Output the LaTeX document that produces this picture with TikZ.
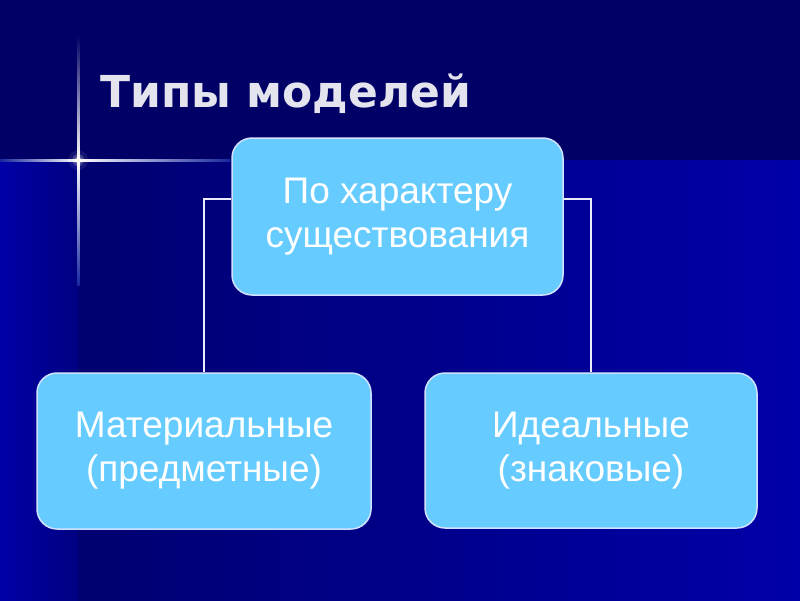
\documentclass[tikz,border=0pt]{standalone}
\usepackage{fontspec}
\usepackage{tikz}
\usetikzlibrary{shapes,positioning,calc}
\setmainfont{Liberation Sans}
\newfontfamily\titlefont{DejaVu Sans}
\definecolor{bgtop}{RGB}{0,0,102}
\definecolor{bgdark}{RGB}{0,0,112}
\definecolor{bglight}{RGB}{0,0,168}
\definecolor{boxfill}{RGB}{102,204,255}
\definecolor{boxline}{RGB}{210,225,255}
\definecolor{titlegray}{RGB}{228,228,238}
\definecolor{starblue}{RGB}{60,100,235}

\tikzset{
  typebox/.style={draw=boxline, line width=1.5pt, fill=boxfill, rounded corners=20pt,
    text=white, align=center, font=\fontsize{37}{44}\selectfont, inner sep=0pt},
  link/.style={draw=white!92!blue, line width=2pt},
  titletext/.style={font=\titlefont\bfseries\fontsize{44}{52}\selectfont, inner sep=0pt}
}

\begin{document}
\begin{tikzpicture}[x=1pt, y=-1pt]
        % Background
        \useasboundingbox (0,0) rectangle (800,600);
        \fill[bgtop] (0,0) rectangle (800,160);
        \shade[left color=bgdark, right color=bglight] (78,160) rectangle (800,600);
        \shade[left color=bglight, right color=bgdark!70!bglight] (0,160) rectangle (78,600);
        
        % Star
        \shade[left color=bgtop!60!starblue, right color=white] (0,159) rectangle (78,161.5);
        \shade[left color=white, right color=bgtop!60!starblue] (78,159) rectangle (230,161.5);
        \shade[top color=bgtop, bottom color=white] (77,35) rectangle (79.5,160);
        \shade[top color=white, bottom color=bgdark!60!starblue] (77,160) rectangle (79.5,285);
        \foreach \r/\o in {10/0.08, 6/0.2, 3.5/0.45, 1.8/1}
            \fill[white, opacity=\o] (78.2,160.2) circle (\r);
        
        % Title
        \node[titletext, text=titlegray, anchor=base west] (title) at (100,107) {Типы моделей};
        
        % Boxes
        \node[typebox, minimum width=331pt, minimum height=157pt] (top) at (397.5,216.5)
            {По характеру\\существования};
        \node[typebox, minimum width=334pt, minimum height=156pt] (mat) at (204,451)
            {Материальные\\(предметные)};
        \node[typebox, minimum width=332pt, minimum height=155pt] (ideal) at (591,450.5)
            {Идеальные\\(знаковые)};
        
        % Links
        \draw[link] ([yshift=18pt]top.west) -| (mat.north);
        \draw[link] ([yshift=18pt]top.east) -| (ideal.north);
    \end{tikzpicture}
\end{document}
